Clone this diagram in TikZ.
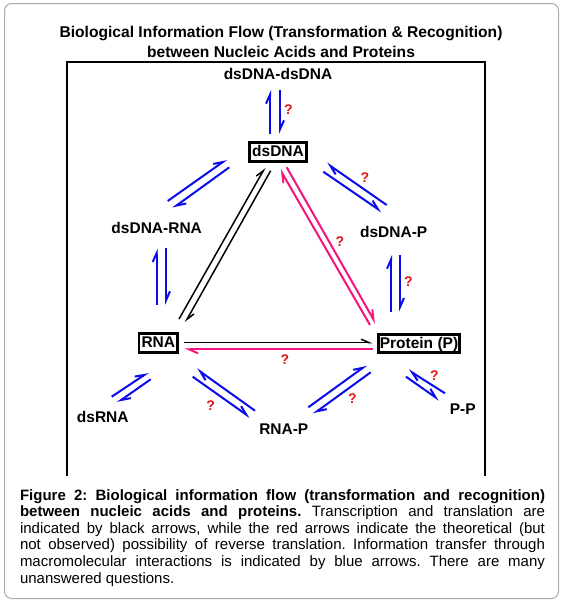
\documentclass[tikz,border=0pt]{standalone}
\usepackage{fontspec}
\setmainfont{Liberation Sans}
\usetikzlibrary{arrows.meta}
\definecolor{fblue}{RGB}{10,10,235}
\definecolor{fpink}{RGB}{245,20,125}
\definecolor{qred}{RGB}{225,20,20}
\tikzset{
    box/.style={draw, line width=2.8pt, inner xsep=2.5pt, inner ysep=2.5pt,
        text height=11.5pt, text depth=2pt, font=\bfseries\fontsize{15.5}{18}\selectfont},
    lbl/.style={inner sep=0pt, font=\bfseries\fontsize{15.5}{18}\selectfont},
    qm/.style={inner sep=0pt, text=qred, font=\bfseries\fontsize{14}{16}\selectfont},
    harp/.style={-{Straight Barb[harpoon, length=9pt, width=8pt]}},
    bflow/.style={harp, draw=fblue, line width=2pt},
    kflow/.style={-{Straight Barb[harpoon, length=8pt, width=7pt]}, draw=black, line width=1.5pt},
    pflow/.style={harp, draw=fpink, line width=2pt}
}

\begin{document}
\begin{tikzpicture}[x=1pt, y=-1pt]
        \useasboundingbox (0, 0) rectangle (563, 606);
        \draw[gray!65, line width=1pt, rounded corners=7pt] (4.5, 3.5) rectangle (558.5, 598.5);
        \node (title) [align=center, inner sep=0pt, font=\bfseries\fontsize{15.6}{20}\selectfont] at (281, 42)
            {Biological Information Flow (Transformation \& Recognition)\\between Nucleic Acids and Proteins};
        \draw[line width=1.8pt] (67.3, 476) -- (67.3, 62.3) -- (485, 62.3) -- (485, 476);

        \node (dd) [lbl] at (278, 74) {dsDNA-dsDNA};
        \node (dsdna) [box] at (278, 152) {dsDNA};
        \node (dr) [lbl] at (156.7, 227.7) {dsDNA-RNA};
        \node (dp) [lbl] at (393.7, 231.7) {dsDNA-P};
        \node (rna) [box] at (158.3, 343) {RNA};
        \node (prot) [box, inner xsep=1pt] at (419, 343.5) {Protein (P)};
        \node (dsrna) [lbl] at (102.8, 417.3) {dsRNA};
        \node (rnap) [lbl] at (283.8, 429.3) {RNA-P};
        \node (pp) [lbl] at (462.8, 409.3) {P-P};

        \begin{scope}
            \draw[bflow] ([shift={(-8,-18)}]dsdna.center) -- ([shift={(-8,16)}]dd.center);
            \draw[bflow] ([shift={(2,16)}]dd.center) -- ([shift={(2,-18)}]dsdna.center);
            \draw[bflow] ([shift={(11,-26.7)}]dr.center) -- ([shift={(-51.3,7.3)}]dsdna.center);
            \draw[bflow] ([shift={(-48.7,15.3)}]dsdna.center) -- ([shift={(16,-19.4)}]dr.center);
            \draw[bflow] ([shift={(-1.6,-38)}]rna.center) -- ([shift={(0,20.6)}]dr.center);
            \draw[bflow] ([shift={(9.3,20.6)}]dr.center) -- ([shift={(7.7,-38)}]rna.center);
            \draw[bflow] ([shift={(-7,-26.7)}]dp.center) -- ([shift={(48.7,11.3)}]dsdna.center);
            \draw[bflow] ([shift={(45.3,19.7)}]dsdna.center) -- ([shift={(-12,-20)}]dp.center);
            \draw[bflow] ([shift={(-28,-31.8)}]prot.center) -- ([shift={(-2.7,23.3)}]dp.center);
            \draw[bflow] ([shift={(6.3,23.3)}]dp.center) -- ([shift={(-19,-31.8)}]prot.center);
            \draw[bflow] ([shift={(8.9,-20.6)}]dsrna.center) -- ([shift={(-10,29.3)}]rna.center);
            \draw[bflow] ([shift={(-7.6,36.3)}]rna.center) -- ([shift={(14.5,-14.6)}]dsrna.center);
            \draw[bflow] ([shift={(-28.8,-18.6)}]rnap.center) -- ([shift={(38.4,26)}]rna.center);
            \draw[bflow] ([shift={(34.4,33.7)}]rna.center) -- ([shift={(-33.8,-12)}]rnap.center);
            \draw[bflow] ([shift={(24.5,-22)}]rnap.center) -- ([shift={(-52.3,21.5)}]prot.center);
            \draw[bflow] ([shift={(-48.3,28.8)}]prot.center) -- ([shift={(29.5,-15.3)}]rnap.center);
            \draw[bflow] ([shift={(-17.8,-16)}]pp.center) -- ([shift={(-10.7,26.5)}]prot.center);
            \draw[bflow] ([shift={(-13,33.2)}]prot.center) -- ([shift={(-23.5,-9.3)}]pp.center);
        \end{scope}

        \draw[kflow] ([shift={(20.7,-24)}]rna.center) -- ([shift={(-13,15.7)}]dsdna.center);
        \draw[kflow] ([shift={(-7.3,18.7)}]dsdna.center) -- ([shift={(27,-20.7)}]rna.center);
        \draw[kflow] ([shift={(26,-0.3)}]rna.center) -- ([shift={(-46.3,-0.8)}]prot.center);
        \draw[pflow] ([shift={(-49,-18.5)}]prot.center) -- ([shift={(2,17.3)}]dsdna.center);
        \draw[pflow] ([shift={(8.7,15.3)}]dsdna.center) -- ([shift={(-43.3,-20.2)}]prot.center);
        \draw[pflow] ([shift={(-46.3,5.8)}]prot.center) -- ([shift={(26,6.3)}]rna.center);

        \node (q1) [qm] at (288.5, 110) {?};
        \node (q2) [qm] at (340, 241.7) {?};
        \node (q3) [qm] at (365, 177.7) {?};
        \node (q4) [qm] at (408.3, 281.7) {?};
        \node (q5) [qm] at (285, 360) {?};
        \node (q6) [qm] at (210.7, 406) {?};
        \node (q7) [qm] at (352.3, 399) {?};
        \node (q8) [qm] at (434.3, 376) {?};

        \node (caption) [anchor=north west, text width=525pt, align=justify, inner sep=0pt,
            font=\fontsize{15}{16.6}\selectfont] at (19.8, 489)
            {\frenchspacing\hyphenpenalty=10000\textbf{Figure 2: Biological information flow (transformation and recognition)\linebreak
            between nucleic acids and proteins.} Transcription and translation are\linebreak
            indicated by black arrows, while the red arrows indicate the theoretical (but\linebreak
            not observed) possibility of reverse translation. Information transfer through\linebreak
            macromolecular interactions is indicated by blue arrows. There are many\linebreak
            unanswered questions.};
    \end{tikzpicture}
\end{document}
